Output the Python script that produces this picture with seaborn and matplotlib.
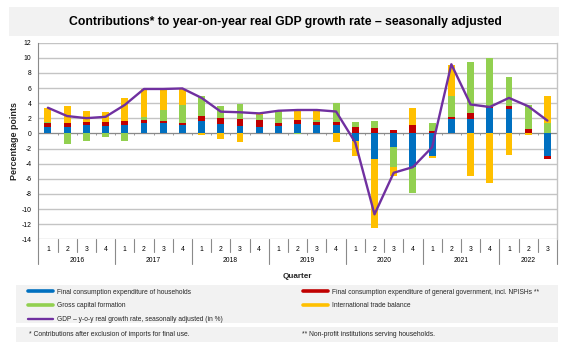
import numpy as np
import pandas as pd
import matplotlib
matplotlib.use("Agg")
import matplotlib.pyplot as plt
import matplotlib.transforms as mtransforms
from matplotlib.lines import Line2D
from matplotlib.patches import Rectangle
import seaborn as sns

# ---------------- data ----------------
years = ["2016", "2017", "2018", "2019", "2020", "2021", "2022"]
quarters = ["1", "2", "3", "4"] * 6 + ["1", "2", "3"]
periods = [f"{y}Q{q}" for y in years[:-1] for q in "1234"] + ["2022Q1", "2022Q2", "2022Q3"]

households = [0.88, 0.88, 1.05, 1.00, 1.15, 1.39, 1.32, 1.06, 1.58, 1.26, 1.00, 0.84,
              0.97, 1.27, 1.05, 1.14, -0.98, -3.37, -1.83, -4.50, -2.97, 1.95, 1.90, 3.40,
              3.22, 0.10, -3.00]
government = [0.52, 0.52, 0.50, 0.50, 0.52, 0.45, 0.32, 0.33, 0.71, 0.73, 0.93, 0.98,
              0.40, 0.53, 0.49, 0.40, 0.83, 0.68, 0.46, 1.12, 0.37, 0.18, 0.75, 0.05,
              0.40, 0.43, -0.33]
capital = [0.15, -1.36, -0.95, -0.50, -0.97, 0.35, 1.50, 2.42, 2.60, 1.70, 1.95, 0.62,
           1.50, -0.10, 0.26, 2.46, 0.74, 0.97, -2.67, -3.40, 1.02, 2.82, 6.83, 6.50,
           3.80, 3.17, 1.35]
trade = [1.80, 2.25, 1.45, 1.27, 3.03, 3.74, 2.73, 2.07, -0.15, -0.80, -1.10, 0.10,
         0.10, 1.40, 1.28, -1.10, -1.98, -9.07, -1.07, 2.20, -0.26, 4.10, -5.65, -6.50,
         -2.85, -0.20, 3.63]
gdp = [3.40, 2.30, 2.02, 2.20, 3.77, 5.88, 5.88, 5.95, 4.70, 2.88, 2.80, 2.65,
       3.00, 3.10, 3.10, 2.90, -1.20, -10.70, -5.20, -4.45, -1.82, 9.15, 3.83, 3.50,
       4.70, 3.60, 1.70]

labels = ["Final consumption expenditure of households",
          "Final consumption expenditure of general government, incl. NPISHs **",
          "Gross capital formation",
          "International trade balance",
          "GDP \u2013 y-o-y real growth rate, seasonally adjusted (in %)"]
colors = ["#0070C0", "#C00000", "#92D050", "#FFC000"]
line_color = "#7030A0"

title = "Contributions* to year-on-year real GDP growth rate \u2013 seasonally adjusted"
ylabel = "Percentage points"
xlabel = "Quarter"
note1 = "* Contributions after exclusion of imports for final use."
note2 = "** Non-profit institutions serving households."

# ---------------- style ----------------
sns.set_theme(style="white")
plt.rcParams['font.family'] = ['Liberation Sans', 'DejaVu Sans']

W, H = 565, 346
fig = plt.figure(figsize=(W / 100, H / 100), dpi=100)
fig.patch.set_facecolor("white")

def fx(px):
    return px / W

def fy(py):
    return 1 - py / H

L, R, T, B = 38.3, 557.0, 42.7, 239.3
ax = fig.add_axes([fx(L), fy(B), fx(R) - fx(L), fy(T) - fy(B)])

# title band
fig.patches.append(Rectangle((fx(9), fy(36)), fx(559) - fx(9), fy(7) - fy(36),
                             transform=fig.transFigure, facecolor="#f2f2f2",
                             edgecolor="none", zorder=0))
fig.text(fx(285), fy(22), title, ha="center", va="center", fontsize=8.8,
         fontweight="bold", color="black")

# ---------------- stacked bars (diverging stacking) ----------------
series = [households, government, capital, trade]
n = len(periods)
pos = np.zeros(n)
neg = np.zeros(n)
layers = []
for vals, c in zip(series, colors):
    v = np.asarray(vals, dtype=float)
    pos = pos + np.clip(v, 0, None)
    neg = neg + np.clip(v, None, 0)
    layers.append((pos.copy(), neg.copy(), c))

for ptop, nbot, c in reversed(layers):
    df = pd.DataFrame({"period": periods, "pos": ptop, "neg": nbot})
    sns.barplot(data=df, x="period", y="pos", order=periods, color=c, saturation=1,
                width=0.36, errorbar=None, linewidth=0, ax=ax, zorder=3)
    sns.barplot(data=df, x="period", y="neg", order=periods, color=c, saturation=1,
                width=0.36, errorbar=None, linewidth=0, ax=ax, zorder=3)

sns.lineplot(x=np.arange(n), y=gdp, color=line_color, linewidth=1.7, ax=ax,
             zorder=5, legend=False)

# ---------------- axes ----------------
ax.set_xlim(-0.5, n - 0.5)
ax.set_ylim(-14, 12)
ax.set_yticks(range(-14, 13, 2))
ax.set_yticklabels([str(v) for v in range(-14, 13, 2)], fontsize=4.9)
ax.yaxis.grid(True, color="#c4c4c4", linewidth=1.0, zorder=0)
ax.xaxis.grid(False)
ax.set_axisbelow(True)
ax.axhline(0, color="#8a8a8a", linewidth=0.8, zorder=2)
ax.vlines(np.arange(n - 1) + 0.5, -0.25, 0, color="#8a8a8a", linewidth=0.6, zorder=2)
ax.tick_params(axis="y", length=2, width=0.6, color="#8a8a8a", pad=3, labelcolor="black")
ax.set_xticks(range(n))
ax.set_xticklabels(quarters, fontsize=4.9)
ax.tick_params(axis="x", length=0, pad=4.5, labelcolor="black")
ax.set_xlabel("")
ax.set_ylabel("")
for s in ["top", "bottom"]:
    ax.spines[s].set_visible(False)
ax.spines["left"].set_color("#8a8a8a")
ax.spines["left"].set_linewidth(0.8)
ax.spines["right"].set_color("#c4c4c4")
ax.spines["right"].set_linewidth(1.0)

# category separators and year labels
trans = mtransforms.blended_transform_factory(ax.transData, ax.transAxes)
short_y = -(251.7 - B) / (B - T)
long_y = -(264.0 - B) / (B - T)
bounds = np.arange(-0.5, n, 1.0)
for i, b in enumerate(bounds):
    is_year = (i % 4 == 0) or (i == n)
    ax.plot([b, b], [0, long_y if is_year else short_y], transform=trans,
            color="#8a8a8a", linewidth=0.8, clip_on=False, zorder=1)
year_y = -(260.0 - B) / (B - T)
for k, yr in enumerate(years):
    start = 4 * k
    end = min(4 * k + 3, n - 1)
    ax.text((start + end) / 2, year_y, yr, transform=trans, ha="center",
            va="center", fontsize=4.9, color="black")

fig.text(fx((L + R) / 2), fy(276), xlabel, ha="center", va="center",
         fontsize=5.9, fontweight="bold")
fig.text(fx(15), fy(141), ylabel, ha="center", va="center", rotation=90,
         fontsize=6.4, fontweight="bold")

# ---------------- legend ----------------
fig.patches.append(Rectangle((fx(16), fy(323)), fx(558) - fx(16), fy(285) - fy(323),
                             transform=fig.transFigure, facecolor="#f2f2f2",
                             edgecolor="none", zorder=0))
fig.patches.append(Rectangle((fx(16), fy(342)), fx(558) - fx(16), fy(327) - fy(342),
                             transform=fig.transFigure, facecolor="#f2f2f2",
                             edgecolor="none", zorder=0))

h_hh = Line2D([], [], color=colors[0], linewidth=2.6)
h_gov = Line2D([], [], color=colors[1], linewidth=2.6)
h_cap = Line2D([], [], color=colors[2], linewidth=2.6)
h_tr = Line2D([], [], color=colors[3], linewidth=2.6)
h_gdp = Line2D([], [], color=line_color, linewidth=1.7)

leg_kw = dict(loc="upper left", frameon=False, fontsize=4.8, handlelength=3.7,
              handletextpad=0.6, labelspacing=1.0, borderpad=0, borderaxespad=0)
leg1 = fig.legend([h_hh, h_cap, h_gdp], [labels[0], labels[2], labels[4]],
                  bbox_to_anchor=(fx(28), fy(288.5)), **leg_kw)
leg2 = fig.legend([h_gov, h_tr], [labels[1], labels[3]],
                  bbox_to_anchor=(fx(303), fy(288.5)), **leg_kw)

fig.text(fx(29), fy(334.5), note1, ha="left", va="center", fontsize=4.9)
fig.text(fx(302), fy(334.5), note2, ha="left", va="center", fontsize=4.9)

fig.savefig("out.png", dpi=100)
